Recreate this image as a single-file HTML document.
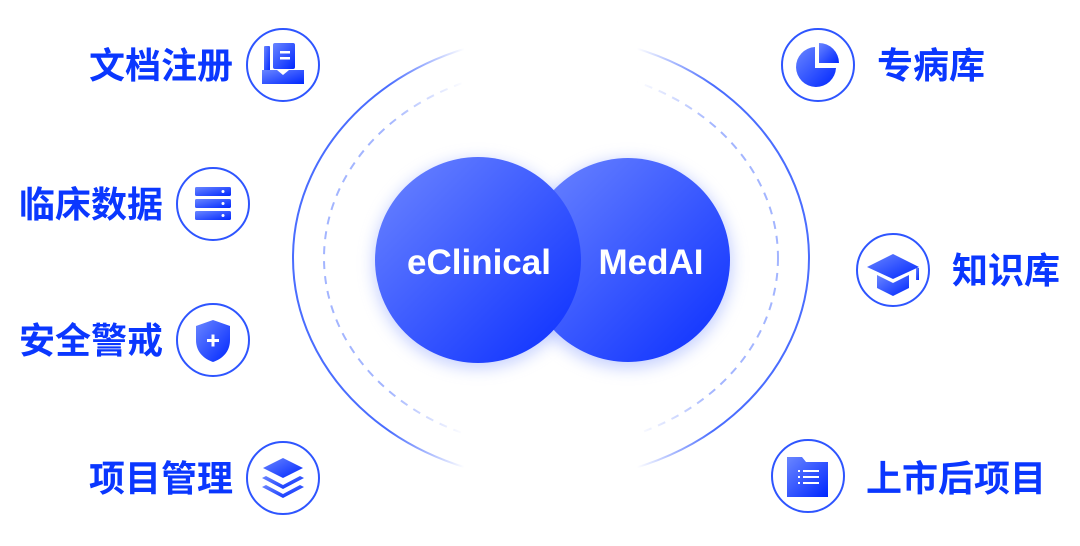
<!DOCTYPE html>
<html><head><meta charset="utf-8"><style>
html,body{margin:0;padding:0;background:#fff;}
body{width:1080px;height:541px;overflow:hidden;}
text{font-family:"Liberation Sans","Noto Sans CJK SC",sans-serif;font-weight:bold;}
</style></head><body>
<svg width="1080" height="541" viewBox="0 0 1080 541" xmlns="http://www.w3.org/2000/svg">
<defs>
<linearGradient id="fadeg" x1="0" y1="0" x2="1080" y2="0" gradientUnits="userSpaceOnUse">
<stop offset="0.36" stop-color="#fff"/><stop offset="0.43" stop-color="#000"/><stop offset="0.59" stop-color="#000"/><stop offset="0.66" stop-color="#fff"/>
</linearGradient>
<mask id="fade" maskUnits="userSpaceOnUse" x="0" y="0" width="1080" height="541">
<rect x="0" y="0" width="1080" height="541" fill="url(#fadeg)"/>
</mask>
<linearGradient id="ball" x1="0" y1="0" x2="1" y2="1">
<stop offset="0" stop-color="#6d86ff"/><stop offset="1" stop-color="#0a2eff"/>
</linearGradient>
<linearGradient id="ic" x1="0" y1="0" x2="1" y2="1">
<stop offset="0" stop-color="#6a86ff"/><stop offset="1" stop-color="#0027ff"/>
</linearGradient>
<filter id="glow" x="-30%" y="-30%" width="160%" height="160%"><feGaussianBlur stdDeviation="8"/></filter>
</defs>
<g mask="url(#fade)">
<ellipse cx="551" cy="258" rx="258" ry="222" fill="none" stroke="#4a6dff" stroke-width="2"/>
<ellipse cx="551" cy="258" rx="227" ry="190" fill="none" stroke="#a3b5ff" stroke-width="2" stroke-dasharray="8 7"/>
</g>
<circle cx="628" cy="264" r="104" fill="#8aa0ff" opacity="0.5" filter="url(#glow)"/>
<circle cx="478" cy="264" r="104" fill="#8aa0ff" opacity="0.5" filter="url(#glow)"/>
<circle cx="628" cy="260" r="102" fill="url(#ball)"/>
<circle cx="478" cy="260" r="103" fill="url(#ball)"/>
<text x="479" y="274" font-size="35" fill="#fff" text-anchor="middle">eClinical</text>
<text x="651" y="274" font-size="35" fill="#fff" text-anchor="middle">MedAI</text>

<g fill="none" stroke="#2e55ff" stroke-width="2">
<circle cx="283" cy="65" r="36"/><circle cx="213" cy="204" r="36"/><circle cx="213" cy="340" r="36"/><circle cx="283" cy="478" r="36"/>
<circle cx="818" cy="65" r="36"/><circle cx="893" cy="270" r="36"/><circle cx="808" cy="476" r="36"/>
</g>
<g fill="url(#ic)">
<rect x="264" y="46" width="6" height="26" rx="1"/><rect x="273" y="43" width="22" height="26" rx="2"/>
<path d="M262 70h15l6 5l6-5h15v14h-42z"/>
<rect x="195" y="187" width="36" height="9" rx="1.5"/><rect x="195" y="199" width="36" height="9" rx="1.5"/><rect x="195" y="211" width="36" height="9" rx="1.5"/>
<path d="M213 320l17 6v14c0 12-8 19-17 22c-9-3-17-10-17-22v-14z"/>
<path d="M283 458l20 10l-20 10l-20-10z"/><path d="M266 476l17 9l17-9l4 2l-21 11l-21-11z"/><path d="M266 485l17 9l17-9l4 2l-21 11l-21-11z"/>
<path d="M815 47a20 20 0 1 0 21 21h-21z"/><path d="M819 43a20 20 0 0 1 20 20h-20z"/>
<path d="M893 254l26 13l-26 12l-26-12z"/><path d="M877 275l16 8l16-8v13l-16 8l-16-8z"/><rect x="916" y="268" width="3" height="12"/>
<path d="M787 457h15l4 5h22v35h-41z"/>
</g>
<g fill="#fff">
<rect x="280" y="51" width="10" height="2.5"/><rect x="280" y="57" width="10" height="2.5"/>
<circle cx="223" cy="191.5" r="1.5"/><circle cx="223" cy="203.5" r="1.5"/><circle cx="223" cy="215.5" r="1.5"/>
<rect x="207" y="339" width="12" height="3"/><rect x="211.5" y="334.5" width="3" height="12"/>
<rect x="798" y="470" width="2" height="2"/><rect x="803" y="470" width="16" height="2"/>
<rect x="798" y="476" width="2" height="2"/><rect x="803" y="476" width="16" height="2"/>
<rect x="798" y="482" width="2" height="2"/><rect x="803" y="482" width="16" height="2"/>
</g>
<g font-size="36" fill="#0a37ff">
<text x="233" y="78" text-anchor="end">文档注册</text>
<text x="163" y="217" text-anchor="end">临床数据</text>
<text x="163" y="353" text-anchor="end">安全警戒</text>
<text x="233" y="491" text-anchor="end">项目管理</text>
<text x="877" y="78">专病库</text>
<text x="952" y="283">知识库</text>
<text x="866" y="491">上市后项目</text>
</g>
</svg>
</body></html>
